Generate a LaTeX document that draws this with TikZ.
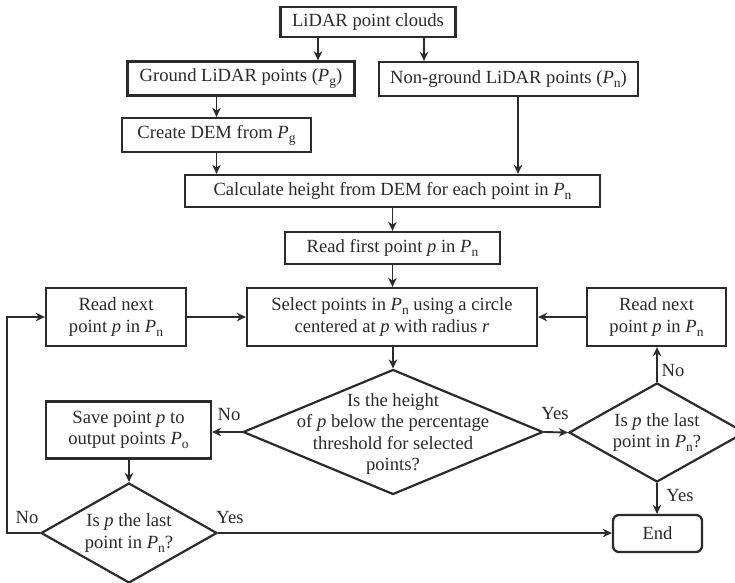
\documentclass[tikz,border=0pt]{standalone}
\usepackage{fontspec}
\setmainfont{Liberation Serif}
\usetikzlibrary{shapes.geometric,arrows.meta}
\definecolor{ink}{HTML}{2B2B2B}
\newcommand\lowsub[1]{\raisebox{-4pt}{\fontsize{13.5}{13.5}\selectfont #1}}
\newcommand\Pv[1]{\textit{P}\lowsub{#1}}
\begin{document}
\begin{tikzpicture}[x=1pt,y=-1pt,font=\fontsize{18.6}{21.3}\selectfont]
\tikzset{
 box/.style={draw=ink, line width=2.3pt, fill=white, text=ink, align=center, inner sep=0pt},
 dia/.style={draw=ink, line width=2.2pt, shape=diamond, inner sep=0pt},
 arr/.style={draw=ink, line width=1.9pt, -{Stealth[length=9pt,width=8.5pt,inset=2.8pt]}},
 lbl/.style={text=ink, inner sep=0pt},
 txt/.style={text=ink, align=center, inner sep=0pt},
}
\fill[white] (0,0) rectangle (735,582);
\useasboundingbox (0,0) rectangle (735,582);

\node[box, minimum width=175, minimum height=30] (lidar) at (368,22) {LiDAR point clouds};
\node[box, minimum width=227, minimum height=34] (ground) at (241,78.5) {Ground LiDAR points (\Pv{g})};
\node[box, minimum width=259, minimum height=34] (nonground) at (508.5,79) {Non-ground LiDAR points (\Pv{n})};
\node[box, minimum width=189, minimum height=34] (dem) at (216.5,135) {Create DEM from \Pv{g}};
\node[box, minimum width=415, minimum height=32] (calc) at (392.5,191) {Calculate height from DEM for each point in \Pv{n}};
\node[box, minimum width=215, minimum height=32] (readfirst) at (392.5,248) {Read first point \textit{p} in \Pv{n}};
\node[box, minimum width=290, minimum height=58] (select) at (392,317) {Select points in \Pv{n} using a circle\\centered at \textit{p} with radius \textit{r}};
\node[box, minimum width=140, minimum height=58] (rnL) at (116,317) {Read next\\point \textit{p} in \Pv{n}};
\node[box, minimum width=139, minimum height=58] (rnR) at (656.5,317) {Read next\\point \textit{p} in \Pv{n}};
\node[dia, minimum width=300, minimum height=125] (q1) at (393,432) {};
\node[txt] (q1t) at (393,434) {Is the height\\of \textit{p} below the percentage\\threshold for selected\\points?};
\node[dia, minimum width=176, minimum height=99] (q2) at (657,432.5) {};
\node[txt] (q2t) at (q2) {Is \textit{p} the last\\point in \Pv{n}?};
\node[box, minimum width=165, minimum height=57] (save) at (128.5,430) {Save point \textit{p} to\\output points \Pv{o}};
\node[dia, minimum width=176, minimum height=100] (q3) at (129,533) {};
\node[txt] (q3t) at (q3) {Is \textit{p} the last\\point in \Pv{n}?};
\node[box, rounded corners=6pt, minimum width=89, minimum height=37] (end) at (657.5,533.5) {End};

\node[lbl] (l1) at (229,414) {No};
\node[lbl] (l2) at (555,413) {Yes};
\node[lbl] (l3) at (673,370) {No};
\node[lbl] (l4) at (680,495) {Yes};
\node[lbl] (l5) at (27,517) {No};
\node[lbl] (l6) at (230,517) {Yes};

\coordinate (loop) at (7,0);

\draw[arr] ([xshift=-50pt]lidar.south) -- ([xshift=-50pt]lidar.south |- ground.north);
\draw[arr] ([xshift=56pt]lidar.south) -- ([xshift=56pt]lidar.south |- nonground.north);
\draw[arr] (ground.south -| dem.north) -- (dem.north);
\draw[arr] (dem.south) -- (dem.south |- calc.north);
\draw[arr] ([xshift=9.5pt]nonground.south) -- ([xshift=9.5pt]nonground.south |- calc.north);
\draw[arr] (calc.south) -- (calc.south |- readfirst.north);
\draw[arr] (readfirst.south) -- (readfirst.south |- select.north);
\draw[arr] (select.south -| q1.north) -- (q1.north);
\draw[arr] (rnL.east) -- (rnL.east -| select.west);
\draw[arr] (rnR.west) -- (rnR.west -| select.east);
\draw[arr] (q1.east) -- (q2.west);
\draw[arr] (q1.west) -- (q1.west -| save.east);
\draw[arr] (q2.north) -- (q2.north |- rnR.south);
\draw[arr] (q2.south) -- (q2.south |- end.north);
\draw[arr] (save.south -| q3.north) -- (q3.north);
\draw[arr] (q3.east) -- (q3.east -| end.west);
\draw[arr] (q3.west) -- (q3.west -| loop) |- (rnL.west);
\end{tikzpicture}
\end{document}
